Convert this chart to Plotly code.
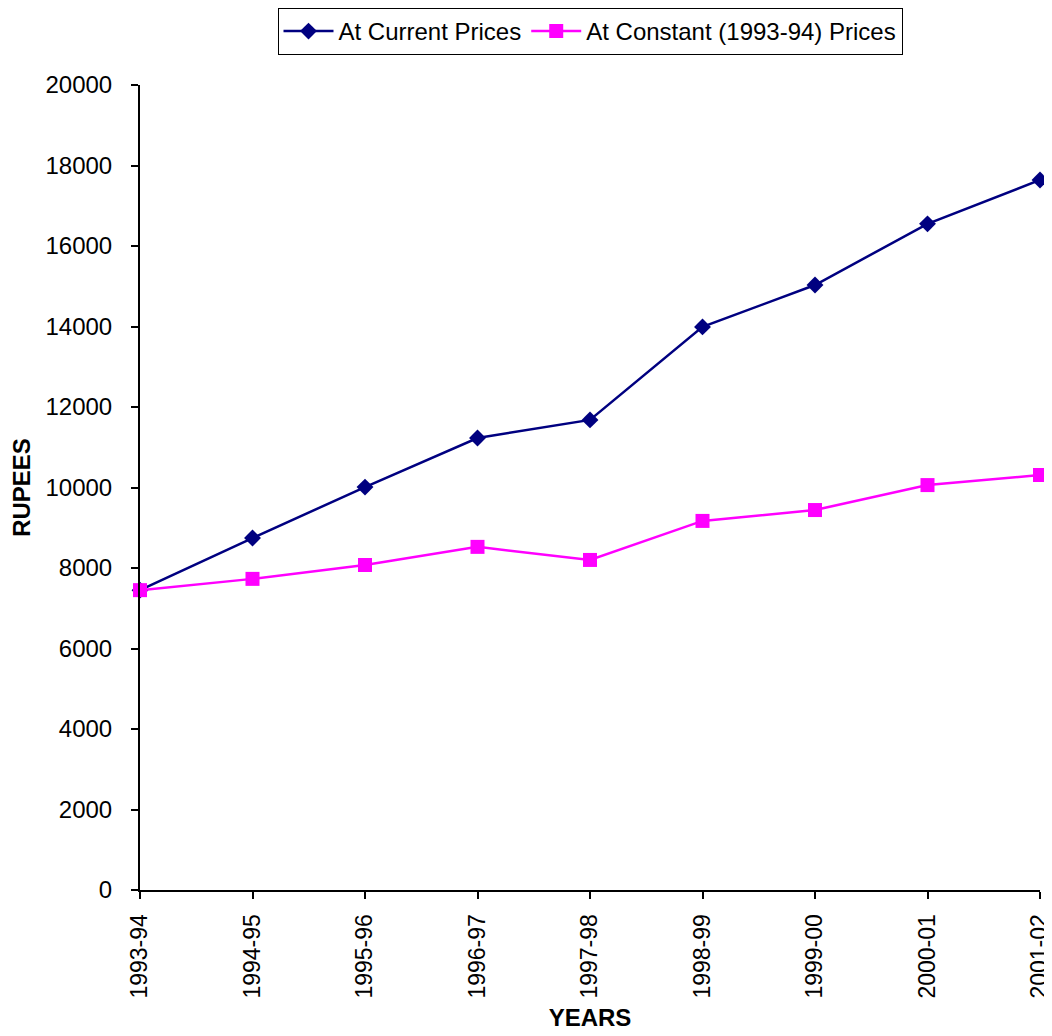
import plotly.graph_objects as go

years = ["1993-94", "1994-95", "1995-96", "1996-97", "1997-98",
         "1998-99", "1999-00", "2000-01", "2001-02"]
current_prices = [7450, 8745, 10010, 11230, 11680, 13990, 15030, 16550, 17640]
constant_prices = [7450, 7730, 8075, 8525, 8200, 9170, 9440, 10060, 10310]
y_ticks = [0, 2000, 4000, 6000, 8000, 10000, 12000, 14000, 16000, 18000, 20000]

xpos = list(range(len(years)))
font_family = "Liberation Sans, Arial, sans-serif"

fig = go.Figure()
fig.add_trace(go.Scatter(
    x=xpos, y=current_prices, name="At Current Prices", mode="lines+markers",
    line=dict(color="#000080", width=2.5),
    marker=dict(symbol="diamond", size=13, color="#000080"),
    cliponaxis=False,
))
fig.add_trace(go.Scatter(
    x=xpos, y=constant_prices, name="At Constant (1993-94) Prices", mode="lines+markers",
    line=dict(color="#FF00FF", width=2.5),
    marker=dict(symbol="square", size=14, color="#FF00FF"),
    cliponaxis=False,
))

# the page body has an 8px default margin, so the figure is sized to fill the rest
fig.update_layout(
    width=1044, height=1028,
    paper_bgcolor="white", plot_bgcolor="white",
    margin=dict(l=132, r=12, t=77, b=146, autoexpand=False),
    font=dict(family=font_family, size=24, color="black"),
    showlegend=True,
    legend=dict(
        orientation="h", x=0.5, xanchor="center", xref="paper",
        y=1.0, yref="container", yanchor="top",
        bordercolor="black", borderwidth=1,
        font=dict(size=24), tracegroupgap=0, itemwidth=50,
    ),
    xaxis=dict(
        range=[0, 8], tickmode="array", tickvals=xpos, ticktext=years,
        tickangle=-90, showgrid=False, zeroline=False, automargin=False,
        showline=True, linecolor="black", linewidth=2,
        ticks="outside", ticklen=7, tickwidth=2, tickcolor="black",
        ticklabelstandoff=6, ticklabeloverflow="allow",
        tickfont=dict(size=23),
        title=dict(text="<b>YEARS</b>", font=dict(size=24), standoff=12),
    ),
    yaxis=dict(
        range=[0, 20000], tickmode="array", tickvals=y_ticks,
        ticktext=[str(v) for v in y_ticks], automargin=False,
        showgrid=False, zeroline=False,
        showline=True, linecolor="black", linewidth=2,
        ticks="outside", ticklen=7, tickwidth=2, tickcolor="black",
        ticklabelstandoff=14,
        title=dict(text="<b>RUPEES</b>", font=dict(size=24), standoff=10),
    ),
)

fig.write_html("out.html")
